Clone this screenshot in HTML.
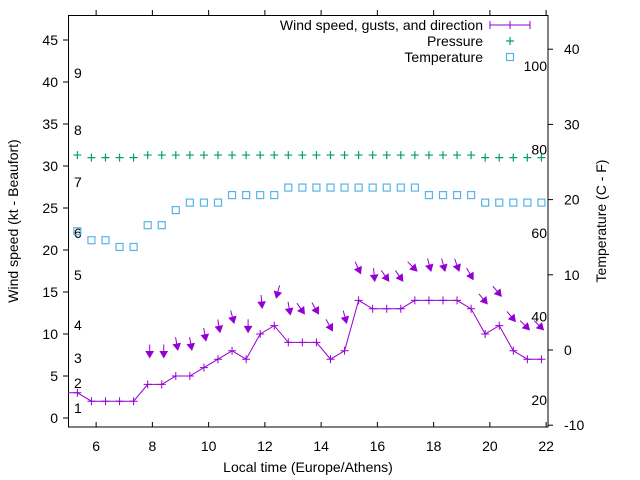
<!DOCTYPE html>
<html><head><meta charset="utf-8"><style>
html,body{margin:0;padding:0;background:#fff;}
svg{display:block;font-family:"Liberation Sans",sans-serif;}
</style></head><body>
<svg id="chart" width="640" height="480" viewBox="0 0 640 480" xmlns="http://www.w3.org/2000/svg">
<defs><clipPath id="clip"><rect x="68" y="15" width="480" height="412"/></clipPath></defs>
<g id="axes"></g>
<g id="data" clip-path="url(#clip)"></g>
<g id="legend">
<text x="483" y="30" font-size="14" text-anchor="end">Wind speed, gusts, and direction</text>
<line x1="490" y1="25" x2="530" y2="25" stroke="#9400d3" stroke-width="1"/>
<path d="M490 21v8M510 21v8M530 21v8M506 25h8" stroke="#9400d3" stroke-width="1" fill="none"/>
<text x="483" y="46" font-size="14" text-anchor="end">Pressure</text>
<path d="M506 41h8M510 37v8" stroke="#009e73" stroke-width="1.2"/>
<text x="483" y="62" font-size="14" text-anchor="end">Temperature</text>
<rect x="506.5" y="53.5" width="7" height="7" fill="none" stroke="#56b4e9" stroke-width="1.2"/>
</g>
<text x="308" y="472" font-size="14" text-anchor="middle">Local time (Europe/Athens)</text>
<text x="0" y="0" font-size="14" text-anchor="middle" transform="translate(18,221) rotate(-90)">Wind speed (kt - Beaufort)</text>
<text x="0" y="0" font-size="14" text-anchor="middle" transform="translate(606,221) rotate(-90)">Temperature (C - F)</text>
</svg>
<script>
const times = [];
for (let i = 0; i < 34; i++) times.push(5.333 + 0.5 * i);
const wind = [3,2,2,2,2,4,4,5,5,6,7,8,7,10,11,9,9,9,7,8,14,13,13,13,14,14,14,14,13,10,11,8,7,7];
const gust = [null,null,null,null,null,7.2,7.2,8.1,8.1,9.2,10.2,11.3,10.2,13.1,14.3,12.3,12.4,12.4,10.4,11.3,17.2,16.3,16.3,16.3,17.5,17.5,17.5,17.5,16.5,13.6,14.5,11.5,10.5,10.5];
const dir = [null,null,null,null,null,0,0,350,350,350,350,345,0,355,15,350,325,330,330,345,335,355,325,325,315,345,345,340,330,320,320,320,315,315];
const pressure = [31.3,31.0,31.0,31.0,31.0,31.3,31.3,31.3,31.3,31.3,31.3,31.3,31.3,31.3,31.3,31.3,31.3,31.3,31.3,31.3,31.3,31.3,31.3,31.3,31.3,31.3,31.3,31.3,31.3,31.0,31.0,31.0,31.0,31.0];
const temp = [15.8,14.6,14.6,13.7,13.7,16.6,16.6,18.6,19.6,19.6,19.6,20.6,20.6,20.6,20.6,21.6,21.6,21.6,21.6,21.6,21.6,21.6,21.6,21.6,21.6,20.6,20.6,20.6,20.6,19.6,19.6,19.6,19.6,19.6];
const xTicks = [6,8,10,12,14,16,18,20,22];
const yTicks = [0,5,10,15,20,25,30,35,40,45];
const y2Ticks = [-10,0,10,20,30,40];
const fTicks = [20,40,60,80,100];
const beaufort = [[1,408],[2,383],[3,358],[4,325],[5,275],[6,233],[7,182],[8,130],[9,73]];

const X = t => 68 + (t - 5) * 28.125;
const Y = v => 418 - v * 8.4;
const Y2 = c => 350 - c * 7.52;
const YF = f => Y2((f - 32) * 5 / 9);
const NS = 'http://www.w3.org/2000/svg';
function mk(tag, attrs, parent, text) {
  const e = document.createElementNS(NS, tag);
  for (const k in attrs) e.setAttribute(k, attrs[k]);
  if (text !== undefined) e.textContent = text;
  parent.appendChild(e);
  return e;
}
const axes = document.getElementById('axes');
const data = document.getElementById('data');
let e = mk('rect', {x:68.5,y:15.5,width:479.5,height:411.5,fill:'none',stroke:'#000','stroke-width':1}, axes);


xTicks.forEach(t => {
  const x = X(t);
  mk('path', {d:`M${x} 427v-5M${x} 15v-5`, stroke:'#000'}, axes);
  const l = mk('text', {x:x, y:451, 'font-size':14, 'text-anchor':'middle'}, axes, String(t));
  
  
});
yTicks.forEach(v => {
  const y = Y(v);
  mk('path', {d:`M63 ${y}h5`, stroke:'#000'}, axes);
  const l = mk('text', {x:58, y:y+5, 'font-size':14, 'text-anchor':'end'}, axes, String(v));
  
  
});
y2Ticks.forEach(c => {
  const y = Y2(c);
  mk('path', {d:`M548 ${y}h5`, stroke:'#000'}, axes);
  const l = mk('text', {x:564, y:y+5, 'font-size':14, 'text-anchor':'start'}, axes, String(c));
  
  
});
fTicks.forEach(f => {
  const l = mk('text', {x:547, y:YF(f)+5, 'font-size':14, 'text-anchor':'end'}, axes, String(f));
  
  
});
beaufort.forEach(b => {
  const l = mk('text', {x:74, y:b[1]+5, 'font-size':14}, axes, String(b[0]));
  
  
});
// pressure
pressure.forEach((p, i) => {
  const x = X(times[i]), y = Y(p);
  const m = mk('path', {d:`M${x-4} ${y}h8M${x} ${y-4}v8`, stroke:'#009e73', 'stroke-width':1.2}, data);
  
  
});
// temperature
temp.forEach((c, i) => {
  const x = X(times[i]), y = Y2(c);
  const m = mk('rect', {x:x-3.5, y:y-3.5, width:7, height:7, fill:'none', stroke:'#56b4e9', 'stroke-width':1.2}, data);
  
  
});
// wind line
let d = `M${X(times[0]-0.5)} ${Y(wind[0])}`;
wind.forEach((w, i) => { d += ` L${X(times[i])} ${Y(w)}`; });
e = mk('path', {d:d, fill:'none', stroke:'#9400d3', 'stroke-width':1}, data);


wind.forEach((w, i) => {
  const x = X(times[i]), y = Y(w);
  const m = mk('path', {d:`M${x-4} ${y}h8M${x} ${y-4}v8`, stroke:'#9400d3', 'stroke-width':1}, data);
  
  
});
// gust arrows
gust.forEach((g, i) => {
  if (g === null) return;
  const a = dir[i] * Math.PI / 180;
  const dx = -Math.sin(a), dy = Math.cos(a);
  const hx = X(times[i]) + 2, hy = Y(g);
  const L = 13;
  const tx = hx - dx * L, ty = hy - dy * L;
  const px = -dy, py = dx;
  const bx = hx - dx * 6, by = hy - dy * 6;
  const grp = mk('g', {}, data);
  
  
  mk('line', {x1:tx, y1:ty, x2:hx, y2:hy, stroke:'#9400d3', 'stroke-width':1}, grp);
  mk('path', {d:`M${hx} ${hy}L${bx+px*3.5} ${by+py*3.5}L${bx-px*3.5} ${by-py*3.5}Z`, fill:'#9400d3', stroke:'#9400d3', 'stroke-width':1}, grp);
});
</script>
</body></html>
